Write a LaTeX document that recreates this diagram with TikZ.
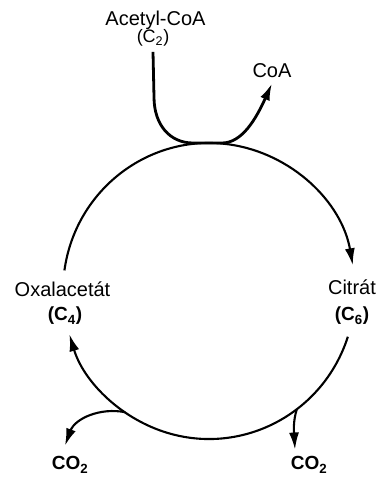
\documentclass[tikz,border=0pt]{standalone}
\usepackage{fontspec}
\setmainfont{Liberation Sans}
\usetikzlibrary{arrows.meta}
\begin{document}
\begin{tikzpicture}[x=1pt,y=1pt,
  lbl/.style={font=\fontsize{20}{22}\selectfont, inner sep=0pt, anchor=base},
  blbl/.style={font=\fontsize{19}{21}\selectfont\bfseries, inner sep=0pt, anchor=base},
  tip/.style={-{Latex[length=17pt,width=10pt]}},
  ring/.style={line width=2.1pt},
  feed/.style={line width=2.8pt}]
\useasboundingbox (0,0) rectangle (378,477);

% metabolite labels
\node[lbl] (acetyl) at (155.5,451) {Acetyl-CoA};
\node[lbl,font=\fontsize{18}{20}\selectfont] (c2) at (153,434) {(C\textsubscript{2})};
\node[lbl] (coa)    at (272,399)   {CoA};
\node[lbl] (oxa)    at (62.5,180)  {Oxalacetát};
\node[blbl] (c4)    at (65,156)    {(C\textsubscript{4})};
\node[lbl] (cit)    at (352,182)   {Citrát};
\node[blbl] (c6)    at (352,156)   {(C\textsubscript{6})};
\node[blbl] (co2l)  at (70,7)      {CO\textsubscript{2}};
\node[blbl] (co2r)  at (309,7)     {CO\textsubscript{2}};

% points on the cycle
\coordinate (ctr) at (209,186);
\coordinate (oxaTop) at ([shift={(172:146 and 148)}]ctr);
\coordinate (citLow) at ([shift={(-18:146 and 148)}]ctr);
\coordinate (brL)    at ([shift={(-125:146 and 148)}]ctr);
\coordinate (brR)    at ([shift={(-53:146 and 148)}]ctr);

% arrow tips of the side branches
\coordinate (coaTip)  at ([yshift=-5pt]coa.south);
\coordinate (co2lTip) at ([shift={(-5pt,11pt)}]co2l.north);
\coordinate (co2rTip) at ([shift={(-14pt,7pt)}]co2r.north);
\coordinate (feedTop) at ([yshift=-5pt]c2.south);

% the cycle
\draw[ring,tip] (oxaTop) arc[start angle=172, end angle=10, x radius=146, y radius=148];
\draw[ring,tip] (citLow) arc[start angle=-18, end angle=-163, x radius=146, y radius=148];

% acetyl-CoA enters, CoA leaves
\draw[feed,tip] (feedTop) -- (154,380)
  .. controls (154,352) and (170,334) .. (193,334) -- (222,334)
  .. controls (242,334) and (256,358) .. (coaTip);

% decarboxylations
\draw[ring,tip] (brL) .. controls +(-25,5) and +(10,27) .. (co2lTip);
\draw[ring,tip] (brR) .. controls +(-4,-12) and +(-1,17) .. (co2rTip);
\end{tikzpicture}
\end{document}
